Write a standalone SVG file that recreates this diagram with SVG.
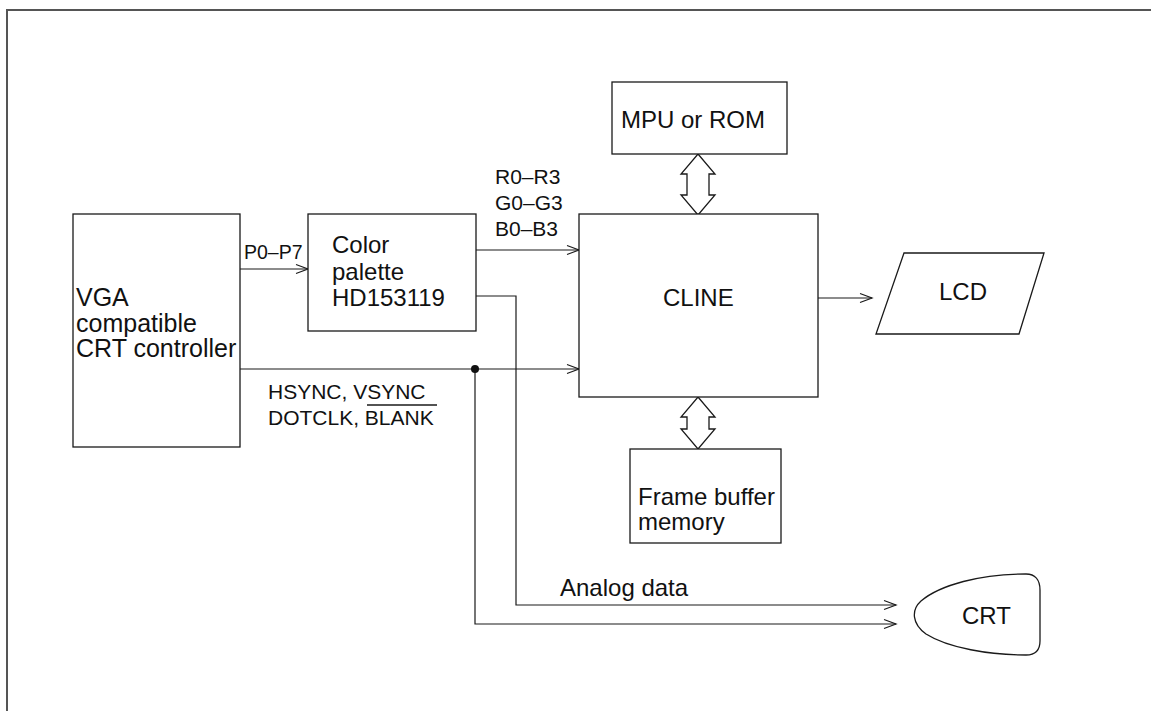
<svg xmlns="http://www.w3.org/2000/svg" width="1151" height="711" viewBox="0 0 1151 711">
  <style>
    .box { fill: #ffffff; stroke: #1a1a1a; stroke-width: 1.3; }
    .wire { fill: none; stroke: #1a1a1a; stroke-width: 1.2; }
    .frame { fill: none; stroke: #555555; stroke-width: 2; }
    .t { font-family: "Liberation Sans", Arial, sans-serif; font-size: 24px; fill: #111111; }
    .big { font-size: 25px; }
    .lbl { font-family: "Liberation Sans", Arial, sans-serif; font-size: 21px; fill: #111111; }
  </style>
  <defs>
    <marker id="open" markerUnits="userSpaceOnUse" markerWidth="16" markerHeight="12" refX="0" refY="0" viewBox="-14 -6 16 12" orient="auto" overflow="visible">
      <path d="M -12 -4.5 L 0 0 L -12 4.5" fill="none" stroke="#1a1a1a" stroke-width="1.2"/>
    </marker>
  </defs>

  <rect width="1151" height="711" fill="#ffffff"/>

  <!-- page frame -->
  <path class="frame" d="M 7 711 L 7 10 L 1151 10"/>

  <!-- connectors -->
  <g id="connectors">
    <path class="wire" d="M 240 269 L 308 269" marker-end="url(#open)"/>
    <path class="wire" d="M 476 250 L 579 250" marker-end="url(#open)"/>
    <path class="wire" d="M 240 369 L 579 369" marker-end="url(#open)"/>
    <path class="wire" d="M 818 298 L 872 298" marker-end="url(#open)"/>
    <path class="wire" d="M 476 296 L 516 296 L 516 605 L 896 605" marker-end="url(#open)"/>
    <path class="wire" d="M 475 369 L 475 624 L 896 624" marker-end="url(#open)"/>
    <circle cx="475" cy="369" r="4" fill="#111111"/>
    <!-- bus arrows -->
    <path class="box" d="M 698 154 L 715 174 L 709 174 L 709 195 L 715 195 L 698 215 L 681 195 L 687 195 L 687 174 L 681 174 Z"/>
    <path class="box" d="M 698 397 L 715 417 L 709 417 L 709 429 L 715 429 L 698 449 L 681 429 L 687 429 L 687 417 L 681 417 Z"/>
    <!-- signal labels -->
    <text class="lbl" x="244" y="259" style="font-size:19.5px">P0–P7</text>
    <text class="lbl" x="495" y="184">R0–R3</text>
    <text class="lbl" x="495" y="210">G0–G3</text>
    <text class="lbl" x="495" y="236">B0–B3</text>
    <text class="lbl" x="268" y="399">HSYNC, VSYNC</text>
    <text class="lbl" x="268" y="425">DOTCLK, BLANK</text>
    <line x1="367" y1="405" x2="437" y2="405" stroke="#1a1a1a" stroke-width="1.3"/>
    <text class="t" x="560" y="596">Analog data</text>
  </g>

  <g id="vga">
    <rect class="box" x="73" y="214" width="167" height="233"/>
    <text class="t big" x="76" y="306">VGA</text>
    <text class="t big" x="76" y="331.5">compatible</text>
    <text class="t big" x="76" y="357">CRT controller</text>
  </g>

  <g id="palette">
    <rect class="box" x="308" y="214" width="168" height="117"/>
    <text class="t" x="332" y="253">Color</text>
    <text class="t" x="332" y="279.5">palette</text>
    <text class="t" x="332" y="306">HD153119</text>
  </g>

  <g id="mpu">
    <rect class="box" x="612" y="82" width="175" height="72"/>
    <text class="t" x="621" y="128">MPU or ROM</text>
  </g>

  <g id="cline">
    <rect class="box" x="579" y="214" width="239" height="183"/>
    <text class="t" x="663" y="306">CLINE</text>
  </g>

  <g id="framebuffer">
    <rect class="box" x="630" y="449" width="151" height="94"/>
    <text class="t" x="638" y="505">Frame buffer</text>
    <text class="t" x="638" y="530">memory</text>
  </g>

  <g id="lcd">
    <path class="box" d="M 904 253 L 1044 253 L 1019 334 L 876 334 Z"/>
    <text class="t" x="939" y="300">LCD</text>
  </g>

  <g id="crt">
    <path class="box" d="M 1026 574 C 1035 574 1040 580 1040 590 L 1040 641 C 1040 650 1035 655 1026 655 C 990 655 948 648 926 634 C 912 624 911 610 921 601 C 940 585 980 574 1026 574 Z"/>
    <text class="t" x="962" y="624">CRT</text>
  </g>
</svg>
